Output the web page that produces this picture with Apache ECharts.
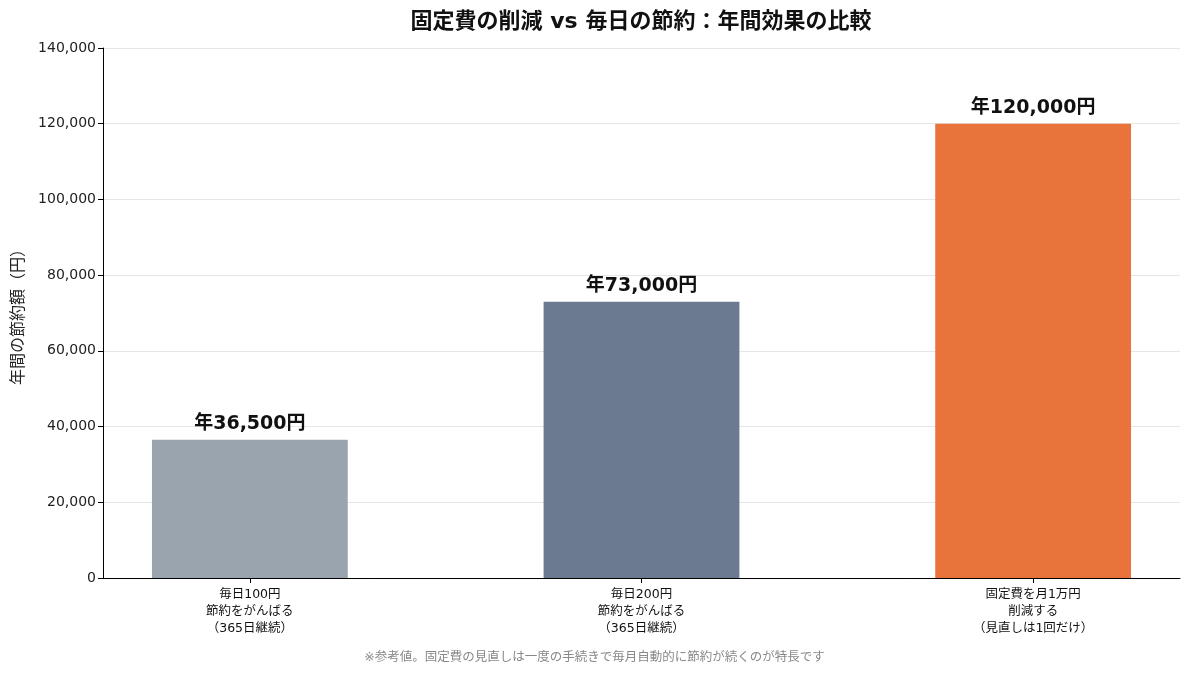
<!DOCTYPE html>
<html>
<head>
<meta charset="utf-8">
<script src="https://cdn.jsdelivr.net/npm/echarts@6/dist/echarts.min.js"></script>
<style>
  html, body { margin: 0; padding: 0; background: #fff; }
  #chart { width: 1189px; height: 676px; }
</style>
</head>
<body>
<div id="chart"></div>
<script>
var categories = ['毎日100円\n節約をがんばる\n（365日継続）', '毎日200円\n節約をがんばる\n（365日継続）', '固定費を月1万円\n削減する\n（見直しは1回だけ）'];
var savings = [36500, 73000, 120000];
var barColors = ['#9aa4af', '#6b7a90', '#e8743b'];
var yTicks = [0, 20000, 40000, 60000, 80000, 100000, 120000, 140000];
var catIndex = [0, 1, 2];

var font = '"DejaVu Sans", "Noto Sans CJK JP", sans-serif';
var myChart = echarts.init(document.getElementById('chart'));

var option = {
	textStyle: { fontFamily: font },
	graphic: [{
		// title centred over the plot area, not the whole canvas
		type: 'text',
		x: 641,
		y: 11,
		style: {
			text: '固定費の削減 vs 毎日の節約：年間効果の比較',
			textAlign: 'center',
			fill: '#111',
			fontSize: 22,
			fontWeight: 'bold',
			fontFamily: font
		}
	}, {
		type: 'text',
		left: 'center',
		top: 651,
		style: {
			text: '※参考値。固定費の見直しは一度の手続きで毎月自動的に節約が続くのが特長です',
			fill: '#888',
			fontSize: 12.5,
			fontFamily: font
		}
	}],
	grid: { left: 103, right: 9, top: 48, bottom: 98 },
	xAxis: {
		type: 'value',
		min: -0.375,
		max: 2.375,
		splitLine: { show: false },
		axisLine: { onZero: false, lineStyle: { color: '#000', width: 1 } },
		axisTick: { show: true, customValues: catIndex, length: 5, lineStyle: { color: '#000' } },
		axisLabel: {
			customValues: catIndex,
			color: '#111', fontSize: 12.5, lineHeight: 17, margin: 8, fontFamily: font,
			formatter: function (v) { return categories[Math.round(v)]; }
		}
	},
	yAxis: {
		type: 'value',
		min: yTicks[0],
		max: yTicks[yTicks.length - 1],
		interval: 20000,
		name: '年間の節約額（円）',
		nameLocation: 'middle',
		nameGap: 72,
		nameTextStyle: { fontSize: 16, color: '#222', fontFamily: font },
		axisLine: { show: true, onZero: false, lineStyle: { color: '#000', width: 1 } },
		axisTick: { show: true, length: 5, lineStyle: { color: '#000' } },
		axisLabel: {
			color: '#222', fontSize: 14, margin: 7, fontFamily: font,
			formatter: function (v) { return v.toLocaleString('en-US'); }
		},
		splitLine: { lineStyle: { color: '#e6e6e6', width: 1 } }
	},
	series: [{
		type: 'bar',
		barWidth: '50%',
		data: savings.map(function (v, i) {
			return { value: [catIndex[i], v], itemStyle: { color: barColors[i] } };
		}),
		label: {
			show: true,
			position: 'top',
			distance: 6,
			color: '#111',
			fontSize: 19,
			fontWeight: 'bold',
			fontFamily: font,
			formatter: function (p) { return '年' + p.value[1].toLocaleString('en-US') + '円'; }
		}
	}]
};
myChart.setOption(option);
</script>
</body>
</html>
